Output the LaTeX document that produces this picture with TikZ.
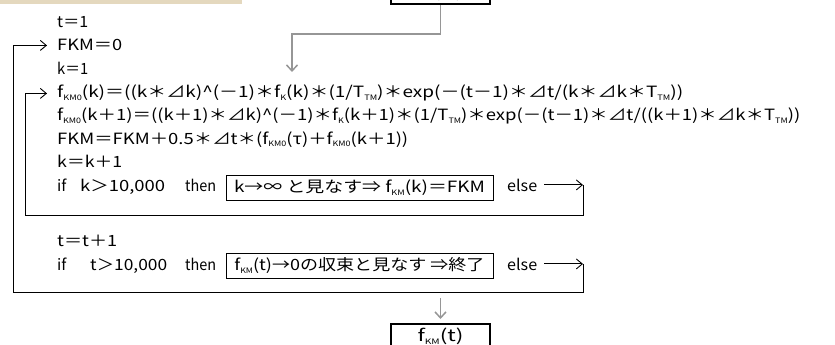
\documentclass[tikz,border=0pt]{standalone}
\usepackage{fontspec}
\usepackage{graphicx}
\setmainfont{Noto Sans CJK JP}
\usetikzlibrary{arrows.meta}
\definecolor{beige}{RGB}{228,216,190}
\definecolor{conngray}{RGB}{150,150,150}
\newcommand\sbs[1]{\raisebox{-0.35ex}{\fontsize{7.5}{7.5}\selectfont #1}}
\newcommand\fitw[2]{\resizebox{#1pt}{\height}{#2}}
\begin{document}
\begin{tikzpicture}[x=1pt,y=-1pt,
  font=\fontsize{15.5}{17}\selectfont,
  txt/.style={anchor=base west, inner sep=0pt},
  line/.style={line width=0.9pt, black},
  arr/.style={line width=0.9pt, black, -{Straight Barb[length=6pt,width=10pt]}},
  garr/.style={line width=1.5pt, conngray, -{Straight Barb[length=6pt,width=11pt]}},
  condbox/.style={draw, line width=0.9pt, minimum width=267pt, minimum height=25pt, inner sep=0pt},
  endbox/.style={draw, line width=2.2pt, minimum width=99pt, minimum height=24pt, inner sep=0pt, font=\fontsize{16.5}{18}\selectfont}]
\useasboundingbox (0,0) rectangle (835,345);
\clip (0,0) rectangle (835,345);
\fill[beige] (0,0) rectangle (242,4.5);

% top and bottom boxes
\node[endbox, anchor=south] (topbox) at (440.5,5) {\fitw{46}{f\sbs{K}(k)}};
\node[endbox, anchor=north] (botbox) at (440.5,323) {\fitw{46}{f\sbs{KM}(t)}};

% text lines
\node[txt] (t1)   at (57,28)  {\fitw{31}{t＝1}};
\node[txt] (fkm0) at (57,51)  {\fitw{65}{FKM＝0}};
\node[txt] (k1)   at (57,74.5){\fitw{31}{k＝1}};
\node[txt] (fk)   at (57,98)  {\fitw{626}{f\sbs{KM0}(k)＝((k＊⊿k)\textasciicircum(－1)＊f\sbs{K}(k)＊(1/T\sbs{TM})＊exp(－(t－1)＊⊿t/(k＊⊿k＊T\sbs{TM}))}};
\node[txt] (fk1)  at (57,121) {\fitw{743}{f\sbs{KM0}(k＋1)＝((k＋1)＊⊿k)\textasciicircum(－1)＊f\sbs{K}(k＋1)＊(1/T\sbs{TM})＊exp(－(t－1)＊⊿t/((k＋1)＊⊿k＊T\sbs{TM}))}};
\node[txt] (sum)  at (57,144) {\fitw{351}{FKM＝FKM＋0.5＊⊿t＊(f\sbs{KM0}(τ)＋f\sbs{KM0}(k＋1))}};
\node[txt] (kinc) at (57,167) {\fitw{65}{k＝k＋1}};
\node[txt] (if1)  at (57,191) {if};
\node[txt] (c1)   at (80,191) {\fitw{85}{k＞10,000}};
\node[txt] (th1)  at (185,191){\fitw{31}{then}};
\node[condbox] (box1) at (359.5,187.5) {\fitw{251}{k→∞ と見なす⇒ f\sbs{KM}(k)＝FKM}};
\node[txt] (el1)  at (507,191) {\fitw{30}{else}};
\node[txt] (tinc) at (57,246) {\fitw{60}{t＝t＋1}};
\node[txt] (if2)  at (57,270) {if};
\node[txt] (c2)   at (90,270) {\fitw{77}{t＞10,000}};
\node[txt] (th2)  at (185,270){\fitw{31}{then}};
\node[condbox] (box2) at (359.5,266) {\fitw{250}{f\sbs{KM}(t)→0の収束と見なす ⇒終了}};
\node[txt] (el2)  at (507,270) {\fitw{30}{else}};

% coordinates
\coordinate (ib) at (583,215);
\coordinate (il) at (25,215);
\coordinate (ob) at (583,292);
\coordinate (ol) at (13,292);
\coordinate (gbend) at (440.5,34);
\coordinate (gtip) at (292,72);
\coordinate (gstart) at (440.5,298);

% inner loop
\draw[arr] ([xshift=7pt]el1.east) -- (el1.east -| ib);
\draw[line] (el1.east -| ib) -- (ib) -- (il) |- ([xshift=-10pt]fk.west);
\draw[arr] (il |- fk.west) -- ([xshift=-10pt]fk.west);
% outer loop
\draw[arr] ([xshift=7pt]el2.east) -- (el2.east -| ob);
\draw[line] (el2.east -| ob) -- (ob) -- (ol) |- ([xshift=-10pt]fkm0.west);
\draw[arr] (ol |- fkm0.west) -- ([xshift=-10pt]fkm0.west);

% gray connectors
\draw[garr] (topbox.south) -- (gbend) -| (gtip);
\draw[garr, shorten >=4pt] (gstart) -- (botbox.north);
\end{tikzpicture}
\end{document}
